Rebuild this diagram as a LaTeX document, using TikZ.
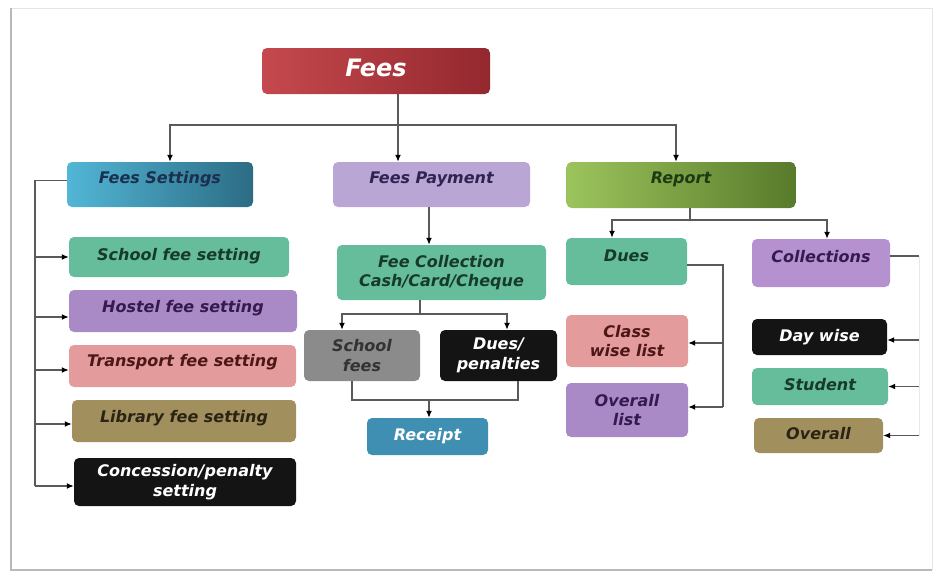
\documentclass[tikz,border=0pt]{standalone}
\usepackage{fontspec}
\setmainfont{DejaVu Sans}
\usetikzlibrary{arrows.meta}
\definecolor{feesL}{HTML}{C5494E}
\definecolor{feesR}{HTML}{93282E}
\definecolor{fsL}{HTML}{52B6D6}
\definecolor{fsR}{HTML}{2C6C84}
\definecolor{repL}{HTML}{9CC45C}
\definecolor{repR}{HTML}{587A2B}
\definecolor{fpcol}{HTML}{B9A6D5}
\definecolor{tealc}{HTML}{66BD9C}
\definecolor{purc}{HTML}{AA8AC6}
\definecolor{pinkc}{HTML}{E49B9B}
\definecolor{olivec}{HTML}{A18F5E}
\definecolor{blackc}{HTML}{141414}
\definecolor{grayc}{HTML}{8B8B8B}
\definecolor{rcpc}{HTML}{3F8FB2}
\definecolor{collc}{HTML}{B592CF}
\definecolor{navyt}{HTML}{1B2F4E}
\definecolor{fpt}{HTML}{2E2352}
\definecolor{rept}{HTML}{1E3A12}
\definecolor{tealt}{HTML}{173A2D}
\definecolor{purt}{HTML}{341A4F}
\definecolor{pinkt}{HTML}{4D1717}
\definecolor{olivet}{HTML}{2B2414}
\definecolor{grayt}{HTML}{333333}
\definecolor{linec}{HTML}{5A5A5A}
\begin{document}
\begin{tikzpicture}[x=1pt,y=-1pt,
  box/.style={rounded corners=5pt, inner sep=0pt, align=center,
    font=\fontsize{16}{19.5}\selectfont\bfseries\itshape},
  lift/.style={text height=12pt, text depth=#1},
  con/.style={draw=linec, line width=1.3pt},
  arr/.style={con, -{Latex[length=7pt,width=6pt,color=black]}}]
\useasboundingbox (0,0) rectangle (933,573);
% frame
\draw[gray!20, line width=1pt] (11,8) -- (932,8) -- (932,570);
\draw[gray!55, line width=1.6pt] (11,8) -- (11,570) -- (932,570);

% level 0 and 1
\node[box, left color=feesL, right color=feesR, text=white, minimum width=228pt, minimum height=46pt,
  font=\fontsize{24}{28}\selectfont\bfseries\itshape, text height=17.6pt, text depth=6pt] (fees) at (376,71) {Fees};
\node[box, left color=fsL, right color=fsR, text=navyt, minimum width=186pt, minimum height=45pt, lift=14pt] (fs) at (160,184.5) {Fees Settings};
\node[box, fill=fpcol, text=fpt, minimum width=197pt, minimum height=45pt, lift=14pt] (fp) at (431.5,184.5) {Fees Payment};
\node[box, left color=repL, right color=repR, text=rept, minimum width=229pt, minimum height=46pt, lift=16pt] (rep) at (681,185) {Report};

% fees settings children
\node[box, fill=tealc, text=tealt, minimum width=220pt, minimum height=40pt, lift=6pt] (sfs) at (179,257) {School fee setting};
\node[box, fill=purc, text=purt, minimum width=228pt, minimum height=42pt, lift=10pt] (hfs) at (183,311) {Hostel fee setting};
\node[box, fill=pinkc, text=pinkt, minimum width=227pt, minimum height=42pt, lift=12pt] (tfs) at (182.5,366) {Transport fee setting};
\node[box, fill=olivec, text=olivet, minimum width=224pt, minimum height=42pt, lift=10pt] (lfs) at (184,421) {Library fee setting};
\node[box, fill=blackc, text=white, minimum width=222pt, minimum height=48pt] (cps) at (185,482) {Concession/penalty\\setting};

% payment subtree
\node[box, fill=tealc, text=tealt, minimum width=209pt, minimum height=55pt] (fc) at (441.5,272.5) {Fee Collection\\Cash/Card/Cheque};
\node[box, fill=grayc, text=grayt, minimum width=116pt, minimum height=51pt] (sf) at (362,355.5) {School\\fees};
\node[box, fill=blackc, text=white, minimum width=117pt, minimum height=51pt] (dp) at (498.5,355.5) {Dues/\\penalties};
\node[box, fill=rcpc, text=white, minimum width=121pt, minimum height=37pt, lift=4pt] (rc) at (427.5,436.5) {Receipt};

% report subtree
\node[box, fill=tealc, text=tealt, minimum width=121pt, minimum height=47pt, lift=12pt] (dues) at (626.5,261.5) {Dues};
\node[box, fill=collc, text=purt, minimum width=138pt, minimum height=48pt, lift=14pt] (coll) at (821,263) {Collections};
\node[box, fill=pinkc, text=pinkt, minimum width=122pt, minimum height=52pt] (cwl) at (627,341) {Class\\wise list};
\node[box, fill=purc, text=purt, minimum width=122pt, minimum height=54pt] (ol) at (627,410) {Overall\\list};
\node[box, fill=blackc, text=white, minimum width=135pt, minimum height=36pt, lift=4pt] (dw) at (819.5,337) {Day wise};
\node[box, fill=tealc, text=tealt, minimum width=136pt, minimum height=37pt, lift=5pt] (st) at (820,386.5) {Student};
\node[box, fill=olivec, text=olivet, minimum width=129pt, minimum height=35pt, lift=5pt] (ov) at (818.5,435.5) {Overall};

% top connectors
\coordinate (hub) at (398,125);
\draw[con] ([xshift=22pt]fees.south) -- (hub);
\draw[arr] (hub) -| ([xshift=10pt]fs.north);
\draw[arr] (hub) -| ([xshift=-5pt]rep.north);
\draw[arr] (hub) -- (hub |- fp.north);

% fees settings bus
\coordinate (busL) at (35,0);
\coordinate (fsout) at ([yshift=4pt]fs.west);
\coordinate (in1) at (sfs.west);
\coordinate (in2) at ([yshift=-6pt]hfs.west);
\coordinate (in3) at ([yshift=-4pt]tfs.west);
\coordinate (in4) at ([yshift=-3pt]lfs.west);
\coordinate (in5) at ([yshift=-4pt]cps.west);
\draw[con] (fsout) -| (busL |- in5);
\draw[arr] (busL |- in1) -- (in1);
\draw[arr] (busL |- in2) -- (in2);
\draw[arr] (busL |- in3) -- (in3);
\draw[arr] (busL |- in4) -- (in4);
\draw[arr] (busL |- in5) -- (in5);

% payment connectors
\coordinate (fpout) at ([xshift=-2.5pt]fp.south);
\draw[arr] (fpout) -- (fpout |- fc.north);
\coordinate (pb) at (420,314);
\draw[con] (fc.south -| pb) -- (pb);
\draw[arr] (pb) -| ([xshift=-20pt]sf.north);
\draw[arr] (pb) -| ([xshift=8.5pt]dp.north);
\coordinate (pj) at (429,400);
\draw[con] ([xshift=-10pt]sf.south) |- (pj);
\draw[con] ([xshift=19.5pt]dp.south) |- (pj);
\draw[arr] (pj) -- (pj |- rc.north);

% report connectors
\coordinate (rb) at (690,220);
\draw[con] (rep.south -| rb) -- (rb);
\draw[arr] (rb) -| ([xshift=-14.5pt]dues.north);
\draw[arr] (rb) -| ([xshift=6pt]coll.north);
\coordinate (busD) at (723,0);
\coordinate (dout) at ([yshift=-3.5pt]dues.east);
\coordinate (cwin) at ([yshift=-2pt]cwl.east);
\coordinate (olin) at ([yshift=3pt]ol.east);
\draw[con] (dout) -| (busD |- olin);
\draw[arr] (busD |- cwin) -- (cwin);
\draw[arr] (busD |- olin) -- (olin);
\coordinate (busC) at (919,0);
\coordinate (cout) at ([yshift=7pt]coll.east);
\coordinate (dwin) at ([yshift=-3pt]dw.east);
\draw[con] (cout) -- (busC |- cout);
\draw[draw=gray!18, line width=1pt] (busC |- cout) -- (busC |- ov.east);
\draw[arr] (busC |- dwin) -- (dwin);
\draw[arr] (busC |- st.east) -- (st.east);
\draw[arr] (busC |- ov.east) -- (ov.east);
\end{tikzpicture}
\end{document}
